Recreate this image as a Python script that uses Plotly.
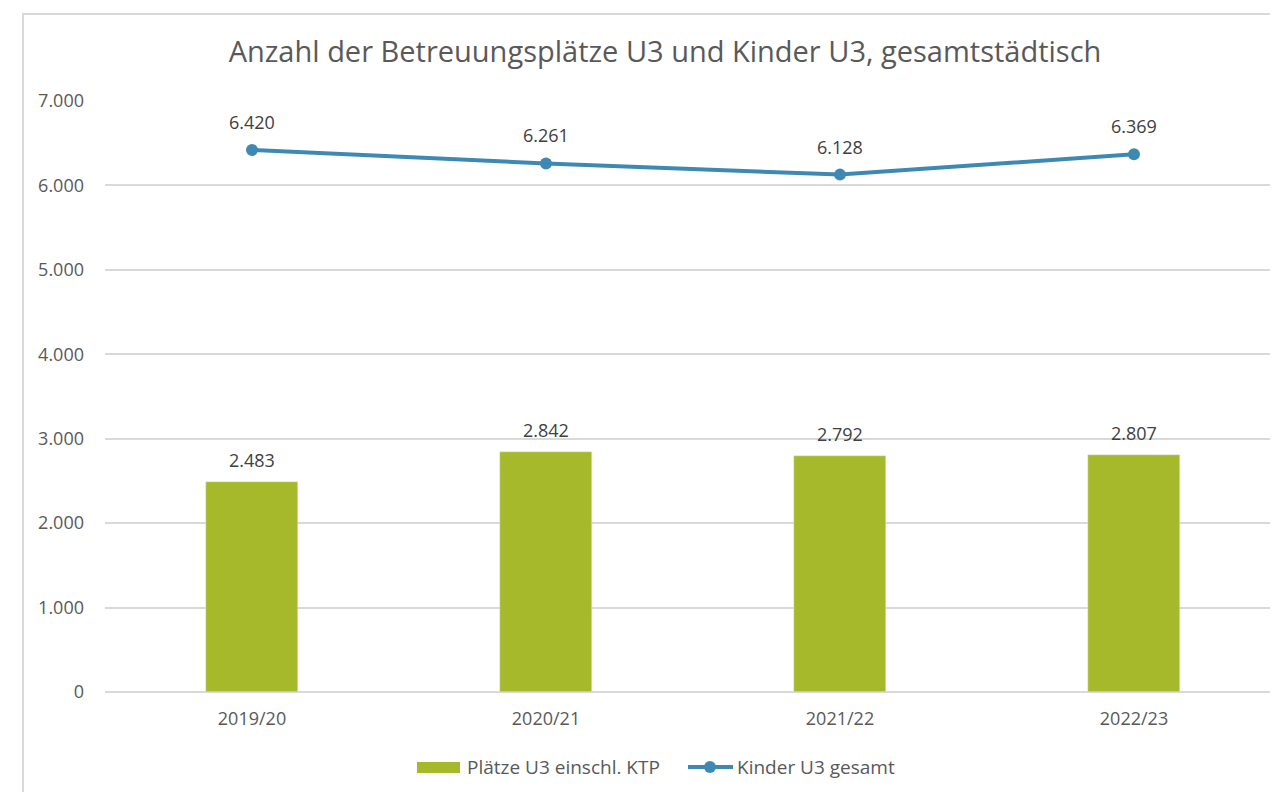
import plotly.graph_objects as go

years = ["2019/20", "2020/21", "2021/22", "2022/23"]
plaetze = [2483, 2842, 2792, 2807]
kinder = [6420, 6261, 6128, 6369]

GREEN = "#a6b92b"
BLUE = "#3e89b4"
GRID = "#d9d9d9"

# page has an 8px body margin, so the figure is a bit smaller than the window
OFF = 8
W, H = 1278 - OFF, 792 - OFF
ML, MR, MT, MB = 105 - OFF, 0, 101 - OFF, 100
pw = W - ML - MR
ph = H - MT - MB


def px_x(p):
    # reference pixel -> paper x
    return (p - OFF - ML) / pw


def px_y(p):
    return (H - MB - (p - OFF)) / ph


def fmt(v):
    return f"{v:,}".replace(",", ".")


fig = go.Figure()
fig.add_trace(go.Bar(
    x=years, y=plaetze, name="Plätze U3 einschl. KTP",
    marker_color=GREEN, width=0.313, showlegend=False,
))
fig.add_trace(go.Scatter(
    x=years, y=kinder, name="Kinder U3 gesamt", mode="lines+markers",
    line=dict(color=BLUE, width=4), marker=dict(size=12, color=BLUE),
    cliponaxis=False, showlegend=False,
))

annotations = []
for yr, v in zip(years, plaetze):
    annotations.append(dict(x=yr, y=v, text=fmt(v), showarrow=False,
                            yanchor="middle", yshift=22,
                            font=dict(size=18, color="#404040")))
for yr, v in zip(years, kinder):
    annotations.append(dict(x=yr, y=v, text=fmt(v), showarrow=False,
                            yanchor="middle", yshift=28,
                            font=dict(size=18, color="#404040")))

# hand-drawn legend to get the wide bar swatch
leg_y = px_y(767)
annotations.append(dict(xref="paper", yref="paper", x=px_x(465), y=leg_y,
                        xanchor="left", yanchor="middle", showarrow=False,
                        text="Plätze U3 einschl. KTP",
                        font=dict(size=19, color="#595959")))
annotations.append(dict(xref="paper", yref="paper", x=px_x(735), y=leg_y,
                        xanchor="left", yanchor="middle", showarrow=False,
                        text="Kinder U3 gesamt",
                        font=dict(size=19, color="#595959")))

shapes = [
    dict(type="rect", xref="paper", yref="paper",
         x0=px_x(23), x1=px_x(1310), y0=px_y(830), y1=px_y(14),
         line=dict(color=GRID, width=2), layer="below"),
    dict(type="rect", xref="paper", yref="paper",
         x0=px_x(417), x1=px_x(460), y0=px_y(773), y1=px_y(762),
         fillcolor=GREEN, line=dict(width=0)),
    dict(type="line", xref="paper", yref="paper",
         x0=px_x(688), x1=px_x(733), y0=leg_y, y1=leg_y,
         line=dict(color=BLUE, width=4)),
    dict(type="circle", xref="paper", yref="paper",
         x0=px_x(704), x1=px_x(716), y0=px_y(773), y1=px_y(761),
         fillcolor=BLUE, line=dict(width=0)),
]

fig.update_layout(
    width=W, height=H,
    margin=dict(l=ML, r=MR, t=MT, b=MB),
    paper_bgcolor="white", plot_bgcolor="white",
    separators=",.",
    font=dict(family="Open Sans", color="#595959", size=18),
    title=dict(text="Anzahl der Betreuungsplätze U3 und Kinder U3, gesamtstädtisch",
               x=(665 - OFF) / W, xref="container", xanchor="center",
               y=1 - (52 - OFF) / H, yref="container", yanchor="middle",
               font=dict(size=29, color="#595959")),
    bargap=0,
    showlegend=False,
    xaxis=dict(range=[-0.5, -0.5 + pw / 294], showgrid=False, ticks="",
               showline=False, ticklabelstandoff=14,
               tickfont=dict(size=18, color="#595959")),
    yaxis=dict(range=[0, 7000], dtick=1000, tickformat=",d",
               gridcolor=GRID, gridwidth=1.5, zeroline=True,
               zerolinecolor=GRID, zerolinewidth=1.5, ticks="",
               ticklabelstandoff=20, tickfont=dict(size=18, color="#595959")),
    annotations=annotations,
    shapes=shapes,
)

fig.write_html("out.html")
